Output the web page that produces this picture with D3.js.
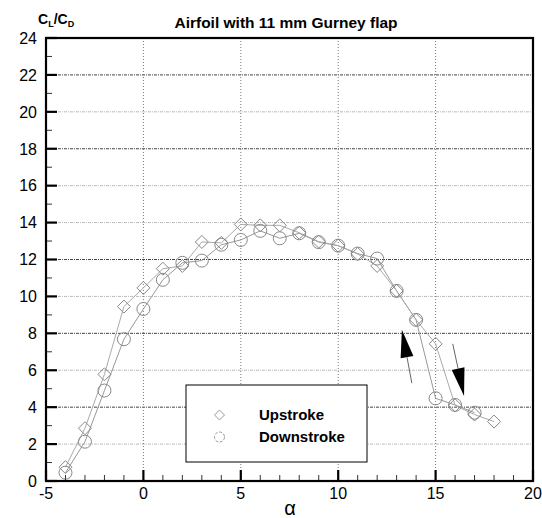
<!DOCTYPE html>
<html>
<head>
<meta charset="utf-8">
<script src="https://cdn.jsdelivr.net/npm/d3@7"></script>
<style>
  html, body { margin: 0; padding: 0; background: #fff; }
  svg { display: block; }
  text { font-family: "Liberation Sans", Arial, Helvetica, sans-serif; }
</style>
</head>
<body>
<svg id="chart" width="542" height="518"></svg>
<script>
// ---- data ----
const upAlpha   = [-4,-3,-2,-1,0,1,2,3,4,5,6,7,8,9,10,11,12,13,14,15,16,17,18];
const upValues  = [0.75,2.86,5.78,9.45,10.46,11.5,11.65,12.95,12.9,13.9,13.85,13.85,13.45,12.97,12.75,12.3,11.65,10.3,8.73,7.43,4.1,3.6,3.22];
const downAlpha  = [-4,-3,-2,-1,0,1,2,3,4,5,6,7,8,9,10,11,12,13,14,15,16,17];
const downValues = [0.45,2.13,4.9,7.68,9.32,10.9,11.82,11.94,12.8,13.06,13.55,13.15,13.42,12.94,12.75,12.32,12.05,10.3,8.73,4.48,4.12,3.7];
const xTicksMajor = [-5,0,5,10,15,20];
const yTicksMajor = [0,2,4,6,8,10,12,14,16,18,20,22,24];
const xGrid = [0,5,10,15];
const yGrid = [2,4,6,8,10,12,14,16,18,20,22];
const yGridDark = [4,8,12,18,22];
const seriesNames = ["Upstroke","Downstroke"];
const titleText = "Airfoil with 11 mm Gurney flap";
// arrows: [tailAlpha, tailValue, tipAlpha, tipValue]
const arrows = [[13.78,5.3,13.27,8.2],[15.88,7.43,16.46,4.6]];

// ---- layout ----
const svg = d3.select("#chart");
const L = 46, R = 533, T = 38, B = 481;
const x = d3.scaleLinear().domain([-5,20]).range([L,R]);
const y = d3.scaleLinear().domain([0,24]).range([B,T]);

// grid
svg.append("g").selectAll("line").data(yGrid).join("line")
  .attr("x1", L).attr("x2", R)
  .attr("y1", d => y(d)).attr("y2", d => y(d))
  .attr("stroke", d => yGridDark.includes(d) ? "#444" : "#bbb")
  .attr("stroke-width", 1)
  .attr("stroke-dasharray", "3,1,1,1");
svg.append("g").selectAll("line").data(xGrid).join("line")
  .attr("y1", T).attr("y2", B)
  .attr("x1", d => x(d)).attr("x2", d => x(d))
  .attr("stroke", "#777").attr("stroke-width", 1)
  .attr("stroke-dasharray", "1,2");

// data lines
const line = d3.line().x(d => x(d[0])).y(d => y(d[1]));
const upPts = upAlpha.map((a,i) => [a, upValues[i]]);
const downPts = downAlpha.map((a,i) => [a, downValues[i]]);
svg.append("path").datum(downPts).attr("d", line)
  .attr("fill","none").attr("stroke","#999").attr("stroke-width",1);
svg.append("path").datum(upPts).attr("d", line)
  .attr("fill","none").attr("stroke","#aaa").attr("stroke-width",1);

// markers
const diamond = (cx, cy, r) => `M${cx},${cy-r}L${cx+r},${cy}L${cx},${cy+r}L${cx-r},${cy}Z`;
svg.append("g").selectAll("path").data(upPts).join("path")
  .attr("d", d => diamond(x(d[0]), y(d[1]), 6.5))
  .attr("fill","none").attr("stroke","#888").attr("stroke-width",1);
svg.append("g").selectAll("circle").data(downPts).join("circle")
  .attr("cx", d => x(d[0])).attr("cy", d => y(d[1])).attr("r", 6.5)
  .attr("fill","none").attr("stroke","#888").attr("stroke-width",1);

// arrows
arrows.forEach(a => {
  const x0 = x(a[0]), y0 = y(a[1]), x1 = x(a[2]), y1 = y(a[3]);
  const dx = x1 - x0, dy = y1 - y0, len = Math.hypot(dx, dy);
  const ux = dx/len, uy = dy/len, px = -uy, py = ux;
  const hl = 28, hw = 6.5;
  const bx = x1 - ux*hl, by = y1 - uy*hl;
  svg.append("line").attr("x1",x0).attr("y1",y0).attr("x2",bx).attr("y2",by)
    .attr("stroke","#666").attr("stroke-width",1);
  svg.append("path")
    .attr("d", `M${x1},${y1}L${bx+px*hw},${by+py*hw}L${bx-px*hw},${by-py*hw}Z`)
    .attr("fill","#000");
});

// ticks (inward, left and bottom)
const yMinor = d3.range(1,24,2);
const xMinor = d3.range(-4,20).filter(v => v % 5 !== 0);
svg.append("g").selectAll("line").data(yTicksMajor).join("line")
  .attr("x1", L).attr("x2", L+11).attr("y1", d => y(d)).attr("y2", d => y(d))
  .attr("stroke","#000").attr("stroke-width",2.2);
svg.append("g").selectAll("line").data(yMinor).join("line")
  .attr("x1", L).attr("x2", L+6).attr("y1", d => y(d)).attr("y2", d => y(d))
  .attr("stroke","#333").attr("stroke-width",1);
svg.append("g").selectAll("line").data(xTicksMajor).join("line")
  .attr("y1", B).attr("y2", B-11).attr("x1", d => x(d)).attr("x2", d => x(d))
  .attr("stroke","#000").attr("stroke-width",2.2);
svg.append("g").selectAll("line").data(xMinor).join("line")
  .attr("y1", B).attr("y2", B-6).attr("x1", d => x(d)).attr("x2", d => x(d))
  .attr("stroke","#333").attr("stroke-width",1);

// frame
svg.append("rect").attr("x",L).attr("y",T).attr("width",R-L).attr("height",B-T)
  .attr("fill","none").attr("stroke","#000").attr("stroke-width",2.2);

// tick labels
svg.append("g").selectAll("text").data(yTicksMajor).join("text")
  .attr("x", L-9).attr("y", d => y(d)).attr("dy","0.36em")
  .attr("text-anchor","end").attr("font-size",16).text(d => d);
svg.append("g").selectAll("text").data(xTicksMajor).join("text")
  .attr("x", d => x(d)).attr("y", 499)
  .attr("text-anchor","middle").attr("font-size",16).text(d => d);

// legend
const lg = svg.append("g");
lg.append("rect").attr("x",186).attr("y",385).attr("width",181).attr("height",77)
  .attr("fill","#fff").attr("stroke","#000").attr("stroke-width",1);
lg.append("path").attr("d", diamond(219.5, 415, 5))
  .attr("fill","none").attr("stroke","#999").attr("stroke-width",1);
lg.append("circle").attr("cx",219.5).attr("cy",437).attr("r",5)
  .attr("fill","none").attr("stroke","#999").attr("stroke-width",1).attr("stroke-dasharray","3,1.5");
lg.selectAll("text.l").data(seriesNames).join("text").attr("class","l")
  .attr("x",259).attr("y",(d,i) => 420 + i*22)
  .attr("font-size",15).attr("font-weight","bold").text(d => d);

// title
svg.append("text").attr("x",286).attr("y",28).attr("text-anchor","middle")
  .attr("font-size",15.5).attr("font-weight","bold").text(titleText);

// y-axis label C_L/C_D
const yl = svg.append("text").attr("x",38).attr("y",24).attr("font-size",14).attr("font-weight","bold");
yl.append("tspan").text("C");
yl.append("tspan").attr("font-size",9).attr("dy",3).text("L");
yl.append("tspan").attr("dy",-3).text("/C");
yl.append("tspan").attr("font-size",9).attr("dy",3).text("D");

// x-axis label
svg.append("text").attr("x",290).attr("y",515).attr("text-anchor","middle")
  .attr("font-family","'Liberation Serif', 'DejaVu Serif', serif")
  .attr("font-size",20).text("α");
</script>
</body>
</html>
